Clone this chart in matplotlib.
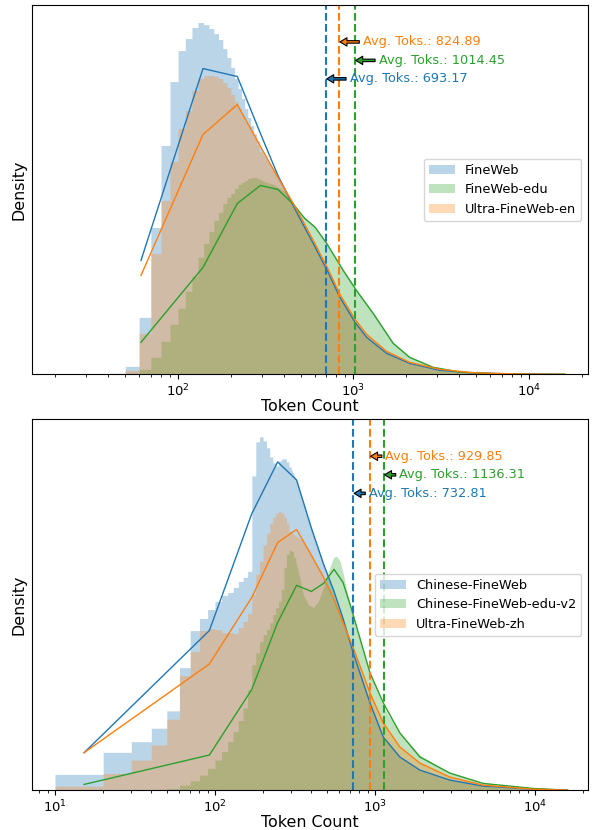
import numpy as np
import matplotlib
matplotlib.use('Agg')
import matplotlib.pyplot as plt
from matplotlib.patches import Patch


# ---- top panel: English corpora (bar heights in arbitrary density units, 10-token bins) ----
fw_start = 40
fw_hist = [1, 8, 57, 147, 229, 293, 324, 336, 347, 352, 350, 346, 341, 335, 326, 317,
           307, 296, 286, 276, 266, 257, 249, 241, 234, 228]
fw_tail_x = [300, 371, 450, 495, 590, 718, 837, 1022, 1190, 1545, 2090, 3107, 4800, 9000, 16000]
fw_tail_y = [226, 197, 170, 157, 131, 102, 77, 52, 37, 21, 11, 4, 1.3, 0.2, 0]

fe_start = 50
fe_hist = [1, 5, 17, 33, 50, 66, 83, 98, 117, 131, 143, 154, 162, 171, 177, 181, 186,
           190, 192, 194, 196, 197, 197, 196, 195]
fe_tail_x = [300, 350, 416, 495, 590, 704, 874, 1040, 1295, 1685, 2090, 2850, 4040, 6850, 16000]
fe_tail_y = [194, 190, 182, 162, 149, 131, 105, 85, 62, 32, 18, 7.5, 2.5, 0.6, 0]

ue_start = 50
ue_hist = [4, 41, 121, 174, 213, 246, 264, 284, 296, 299, 299, 298, 296, 292, 287, 280,
           273, 266, 259, 253, 248, 243, 237, 230, 223]
ue_tail_x = [300, 371, 450, 495, 590, 718, 837, 1022, 1190, 1545, 2090, 3107, 4800, 9000, 16000]
ue_tail_y = [222, 198, 172, 159, 134, 105, 80, 55, 40, 23, 12, 5, 1.6, 0.3, 0]

# kde curves
en_kde_x = [61.5, 138.8, 217.8, 295, 371, 450, 495, 590, 718, 837, 1022, 1190, 1545, 2090,
            3107, 4800, 9000, 16000]
fw_kde = [114, 306, 298, 241, 199, 170, 156, 131, 102, 77, 52, 37, 21, 11, 4, 1.3, 0.2, 0]
ue_kde = [99, 240, 270, 228, 197, 172, 159, 134, 105, 80, 55, 40, 23, 12, 5, 1.6, 0.3, 0]
fe_kde_x = [61.5, 138.8, 217.8, 295, 371, 450, 528, 606, 704, 874, 1040, 1295, 1685, 2090,
            2850, 4040, 6850, 16000]
fe_kde = [32, 107, 171, 189, 185, 171, 156, 147, 131, 104, 84, 61, 31, 17, 7, 2.3, 0.5, 0]

en_labels = ['FineWeb', 'FineWeb-edu', 'Ultra-FineWeb-en']
en_avg = [693.17, 1014.45, 824.89]

# ---- bottom panel: Chinese corpora ----
cf_start = 10
cf_hist = [15.7, 37.7, 48.3, 61.7, 79, 122, 159, 171, 180, 188, 194, 197, 202, 208, 212,
           218, 313, 347, 352, 348, 341, 332, 326, 323, 328, 330, 330, 327, 322]
cf_tail_x = [300, 323.7, 356, 400.8, 477.9, 555, 632, 731, 931, 1127, 1433, 1911, 2943,
             4753, 9750, 16000]
cf_tail_y = [320, 309, 288, 261, 225, 198, 171, 137, 87, 53, 33, 20, 10, 4, 1, 0]

ce_start = 40
ce_hist = [0.7, 1.7, 5, 9.3, 15, 21.7, 30, 38.3, 48.3, 58.3, 69.3, 81.7, 100, 125, 136.7,
           148, 155, 160, 166.7, 175, 181.7, 188.3, 200, 222, 235, 239, 238, 232]
ce_tail_x = [320, 339, 356, 383, 412, 443, 477, 513, 551, 577, 606, 635, 667, 700, 732,
             931, 1127, 1433, 1911, 2943, 4753, 9750, 16000]
ce_tail_y = [228, 212, 195, 185, 182, 188, 202, 218, 232, 233, 228, 215, 198, 185, 172,
             117, 83, 57, 35, 17, 6.7, 1.7, 0]

uz_start = 10
uz_hist = [4, 16.7, 30, 45, 70.7, 114, 138, 159, 161, 160, 157, 157, 156, 162, 168, 176,
           195, 215, 228, 244, 256, 266, 272, 276, 278, 276, 272, 266, 258]
uz_tail_x = [300, 356, 400.8, 477.9, 555, 632, 731, 931, 1127, 1433, 1911, 2943, 4753,
             9750, 16000]
uz_tail_y = [257, 248, 234, 212, 190, 167, 142, 97, 67, 43, 27, 13, 5, 1, 0]

zh_kde_x = [15.2, 92.3, 169.5, 246.6, 323.7, 400.8, 477.9, 555, 632, 731, 931, 1127, 1433,
            1911, 2943, 4753, 9750, 16000]
cf_kde = [37.3, 159, 275, 327, 309, 261, 225, 198, 171, 137, 87, 53, 33, 20, 10, 4, 1, 0]
uz_kde = [37.3, 125.7, 191.7, 246.7, 259.7, 234, 212, 190, 167, 142, 97, 67, 43, 27, 13,
          5, 1, 0]
ce_kde_x = [15.2, 92.3, 169.5, 246.6, 323.7, 400.8, 477.9, 555, 632, 709, 931, 1127, 1433,
            1911, 2943, 4753, 9750, 16000]
ce_kde = [5.7, 35, 100, 167, 204, 198, 206, 220, 207, 182, 117, 87, 57, 33, 17, 6.7, 1.7, 0]

zh_labels = ['Chinese-FineWeb', 'Chinese-FineWeb-edu-v2', 'Ultra-FineWeb-zh']
zh_avg = [732.81, 1136.31, 929.85]

colors = ['#1f77b4', '#2ca02c', '#ff7f0e']
text_y = [0.80, 0.85, 0.90]


def hist_outline(start, heights, tail_x, tail_y):
    edges = start + 10 * np.arange(len(heights) + 1)
    xs = np.repeat(edges, 2)[1:-1]
    ys = np.repeat(heights, 2)
    return np.concatenate([xs, tail_x]), np.concatenate([ys, tail_y])


def draw_panel(ax, hists, kdes, labels, avgs, xlim, text_fac):
    for (start, h, tx, ty), c in zip(hists, colors):
        x, y = hist_outline(start, h, tx, ty)
        ax.fill_between(x, y, 0, color=c, alpha=0.3, lw=0)
    for (kx, ky), c in zip(kdes, colors):
        ax.plot(kx, ky, color=c, lw=1)
    ymax = max(max(h[1]) for h in hists) * 1.05
    for avg, c, yf in zip(avgs, colors, text_y):
        ax.axvline(avg, color=c, ls='--', lw=1.5)
        ax.annotate(f'Avg. Toks.: {avg:.2f}', xy=(avg, yf), xycoords=('data', 'axes fraction'),
                    xytext=(avg * text_fac, yf), textcoords=('data', 'axes fraction'),
                    color=c, fontsize=9.3, va='center', ha='left',
                    arrowprops=dict(facecolor=c, edgecolor='black', lw=0.8, width=1.8,
                                    headwidth=6, headlength=5, shrink=0.05))
    ax.set_xscale('log')
    ax.set_xlim(*xlim)
    ax.set_ylim(0, ymax)
    ax.set_yticks([])
    ax.set_xlabel('Token Count', fontsize=11.4, labelpad=0)
    ax.set_ylabel('Density', fontsize=11.4)
    ax.tick_params(axis='x', labelsize=9.5, pad=2.5)
    handles = [Patch(facecolor=c, alpha=0.3) for c in colors]
    ax.legend(handles, labels, loc='center right', fontsize=9.3)


fig = plt.figure(figsize=(5.92, 8.3), dpi=100)
ax1 = fig.add_axes([0.054, 0.549, 0.939, 0.445])
ax2 = fig.add_axes([0.054, 0.048, 0.939, 0.447])

draw_panel(ax1,
           [(fw_start, fw_hist, fw_tail_x, fw_tail_y),
            (fe_start, fe_hist, fe_tail_x, fe_tail_y),
            (ue_start, ue_hist, ue_tail_x, ue_tail_y)],
           [(en_kde_x, fw_kde), (fe_kde_x, fe_kde), (en_kde_x, ue_kde)],
           en_labels, en_avg, (14.7, 21700), 1.38)

draw_panel(ax2,
           [(cf_start, cf_hist, cf_tail_x, cf_tail_y),
            (ce_start, ce_hist, ce_tail_x, ce_tail_y),
            (uz_start, uz_hist, uz_tail_x, uz_tail_y)],
           [(zh_kde_x, cf_kde), (ce_kde_x, ce_kde), (zh_kde_x, uz_kde)],
           zh_labels, zh_avg, (7.18, 21440), 1.25)

fig.savefig('out.png', dpi=100)
